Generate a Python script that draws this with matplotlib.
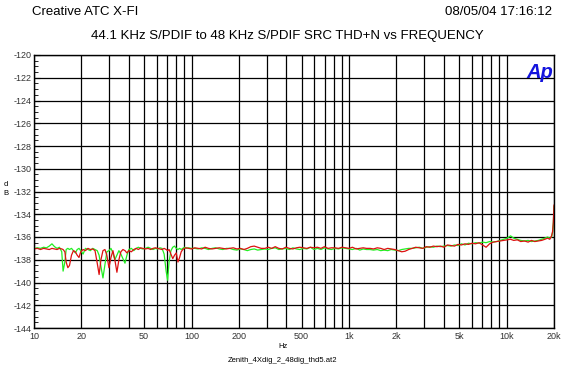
import matplotlib
matplotlib.use("Agg")
from matplotlib import pyplot as plt
from matplotlib.ticker import FixedLocator, MultipleLocator, NullFormatter
import numpy as np

plt.rcParams["font.family"] = ["Liberation Sans", "DejaVu Sans"]
plt.rcParams["axes.unicode_minus"] = False

# sweep frequencies (Hz)
freq_lo = [10, 10.5, 11, 11.5, 12, 12.5, 13, 13.5, 14, 14.5,
           15, 15.3, 15.7, 16, 16.4, 16.8, 17.3, 17.8, 18.3, 18.8,
           19.3, 19.8, 20.5, 21.2, 22, 22.8, 23.6, 24.4, 25.2, 25.9,
           26.6, 27.4, 28.2, 29, 29.9, 30.8, 31.7, 32.6, 33.6, 34.6,
           35.6, 36.7, 37.8, 38.9, 40, 41.5, 43, 44.5, 46, 47.5,
           49, 51, 53, 55, 57, 59, 61, 63, 65, 67,
           69, 70.5, 72, 74, 76, 78, 80, 82, 84, 86,
           88, 90, 93, 96, 100]
freq_hi = [105, 110, 116, 122, 128, 135, 142, 150, 158, 166,
           175, 184, 194, 204, 215, 226, 238, 250, 263, 277,
           292, 307, 323, 340, 358, 377, 397, 418, 440, 463,
           487, 513, 540, 568, 598, 630, 663, 698, 735, 773,
           814, 857, 902, 950, 1000, 1050, 1110, 1170, 1230, 1290,
           1360, 1430, 1510, 1590, 1670, 1760, 1850, 1950, 2050, 2160,
           2270, 2390, 2520, 2650, 2790, 2940, 3090, 3260, 3430, 3610,
           3800, 4000, 4210, 4430, 4670, 4910, 5170, 5440, 5730, 6030,
           6350, 6690, 7040, 7410, 7800, 8210, 8640, 9100, 9580, 10100,
           10600, 11100, 11700, 12300, 13000, 13700, 14400, 15100, 15900, 16700,
           17500, 18200, 18800, 19300, 19600, 19800, 20000]

green_lo = [-137.0, -136.95, -137.0, -136.9, -136.95, -136.8, -136.6, -136.85, -137.0, -136.9,
            -137.3, -139.0, -138.2, -137.1, -137.0, -137.1, -137.0, -137.2, -137.4, -137.1,
            -137.0, -137.2, -137.5, -137.0, -137.1, -137.2, -137.0, -137.1, -137.2, -137.6,
            -138.6, -139.6, -138.4, -137.3, -137.2, -137.0, -137.4, -138.0, -137.6, -137.2,
            -137.5, -137.9, -138.3, -137.6, -137.1, -137.0, -137.2, -137.0, -136.9, -137.0,
            -137.05, -137.0, -136.9, -137.0, -137.1, -137.0, -137.05, -136.95, -137.0, -137.5,
            -139.0, -139.8, -138.2, -137.2, -136.9, -136.8, -137.0, -137.1, -137.0, -137.1,
            -137.0, -136.9, -137.0, -136.95, -137.0]
red_lo = [-137.05, -137.0, -137.1, -137.0, -137.05, -137.1, -137.0, -137.05, -137.1, -137.0,
          -137.05, -137.1, -137.3, -138.2, -138.7, -138.5, -137.6, -137.2, -137.3, -137.6,
          -137.8, -137.3, -137.1, -137.2, -137.0, -137.1, -137.05, -137.2, -138.3, -139.3,
          -138.0, -137.2, -137.1, -137.6, -138.7, -137.8, -137.2, -138.0, -139.1, -138.0,
          -137.3, -137.1, -137.2, -137.4, -137.2, -137.3, -137.1, -137.0, -137.1, -136.95,
          -137.0, -137.05, -137.0, -137.1, -137.0, -136.95, -137.0, -137.05, -137.1, -137.0,
          -137.1, -137.2, -137.1, -137.5, -137.9, -137.6, -137.4, -138.2, -137.8, -137.3,
          -137.1, -137.0, -136.95, -137.0, -137.05]
green_hi = [-137.0, -137.05, -136.95, -137.0, -137.1, -137.0, -136.95, -137.05, -137.1, -137.0,
            -137.0, -137.1, -137.15, -137.05, -137.1, -137.2, -137.1, -137.05, -137.15, -137.1,
            -137.05, -137.1, -137.0, -136.95, -137.1, -137.05, -137.0, -137.1, -136.95, -137.05,
            -137.1, -137.0, -137.05, -136.9, -137.1, -137.0, -137.1, -136.95, -137.05, -137.1,
            -137.0, -137.05, -136.95, -137.0, -137.05, -137.1, -137.0, -137.15, -137.05, -137.1,
            -137.1, -137.15, -137.1, -137.2, -137.15, -137.2, -137.1, -137.15, -137.2, -137.1,
            -137.05, -137.0, -137.0, -136.95, -136.9, -137.0, -136.9, -136.85, -136.9, -136.8,
            -136.85, -136.8, -136.75, -136.8, -136.7, -136.75, -136.6, -136.7, -136.55, -136.6,
            -136.5, -136.55, -136.45, -136.5, -136.4, -136.45, -136.4, -136.3, -136.2, -136.1,
            -135.9, -136.1, -136.2, -136.3, -136.35, -136.3, -136.4, -136.35, -136.3, -136.2,
            -136.1, -136.0, -136.1, -136.0, -135.6, -134.8, -133.3]
red_hi = [-136.95, -137.0, -137.05, -136.9, -137.0, -137.05, -137.0, -136.95, -137.0, -137.05,
          -137.0, -136.95, -137.05, -137.0, -137.1, -137.0, -136.85, -136.8, -136.9, -137.0,
          -137.0, -136.9, -137.0, -136.85, -137.0, -137.05, -136.9, -137.0, -137.05, -136.95,
          -136.9, -136.95, -137.0, -136.9, -136.95, -136.9, -137.0, -136.85, -137.0, -136.95,
          -136.95, -137.0, -136.9, -136.95, -137.0, -136.9, -137.05, -137.0, -136.95, -137.0,
          -137.0, -137.05, -136.95, -137.0, -137.1, -137.0, -137.05, -137.1, -137.2, -137.3,
          -137.25, -137.1, -137.0, -136.9, -136.95, -137.0, -136.85, -136.9, -136.8, -136.85,
          -136.8, -136.9, -136.7, -136.75, -136.8, -136.65, -136.7, -136.6, -136.65, -136.55,
          -136.6, -136.5, -136.7, -136.9, -136.6, -136.45, -136.4, -136.35, -136.3, -136.25,
          -136.2, -136.3, -136.25, -136.4, -136.35, -136.45, -136.3, -136.4, -136.35, -136.3,
          -136.2, -136.1, -136.2, -135.9, -135.5, -134.7, -133.2]

freq = np.array(freq_lo + freq_hi)
green = np.array(green_lo + green_hi)
red = np.array(red_lo + red_hi)

x_ticks = [10, 20, 50, 100, 200, 500, 1000, 2000, 5000, 10000, 20000]
x_labels = ["10", "20", "50", "100", "200", "500", "1k", "2k", "5k", "10k", "20k"]
y_ticks = list(range(-144, -119, 2))

fig = plt.figure(figsize=(5.62, 3.68), dpi=100)
ax = fig.add_axes([34 / 562, 1 - 328 / 368, 520 / 562, 273 / 368])

ax.plot(freq, green, color="#22ee22", lw=0.9)
ax.plot(freq, red, color="#dd1111", lw=0.9)

ax.set_xscale("log")
ax.set_xlim(10, 20000)
ax.set_ylim(-144, -120)

grid_x = [f * d for d in (10, 100, 1000) for f in range(1, 10)] + [10000, 20000]
for gx in grid_x:
    ax.axvline(gx, color="black", lw=0.9, zorder=0.5)
for gy in y_ticks:
    ax.axhline(gy, color="black", lw=0.9, zorder=0.5)

ax.xaxis.set_major_locator(FixedLocator(x_ticks))
ax.xaxis.set_minor_locator(FixedLocator([]))
ax.xaxis.set_minor_formatter(NullFormatter())
ax.set_xticklabels(x_labels)
ax.set_yticks(y_ticks)
ax.yaxis.set_minor_locator(MultipleLocator(0.5))
ax.tick_params(axis="x", length=0, labelsize=6.5, pad=3, labelcolor="#333333")
ax.tick_params(axis="y", which="major", direction="in", length=4, labelsize=6.5, pad=2,
               labelcolor="#333333")
ax.tick_params(axis="y", which="minor", direction="in", length=3)
for s in ax.spines.values():
    s.set_linewidth(1.0)

ax.text(0.999, 0.97, "Ap", transform=ax.transAxes, ha="right", va="top",
        color="#1414dd", fontsize=14.5, fontweight="bold", style="italic")

fig.text(32 / 562, 1 - 12 / 368, "Creative ATC X-FI", ha="left", va="center", fontsize=9.5)
fig.text(552 / 562, 1 - 12 / 368, "08/05/04 17:16:12", ha="right", va="center", fontsize=9.5)
fig.text(287 / 562, 1 - 36 / 368, "44.1 KHz S/PDIF to 48 KHz S/PDIF SRC THD+N vs FREQUENCY",
         ha="center", va="center", fontsize=9.5)
fig.text(283 / 562, 1 - 346 / 368, "Hz", ha="center", va="center", fontsize=5.5)
fig.text(283 / 562, 1 - 361 / 368, "Zenith_4Xdig_2_48dig_thd5.at2", ha="center", va="center", fontsize=5.5)
fig.text(6 / 562, 1 - 189 / 368, "d\nB", ha="center", va="center", fontsize=5.5, linespacing=1.3)

fig.savefig("out.png", dpi=100)
